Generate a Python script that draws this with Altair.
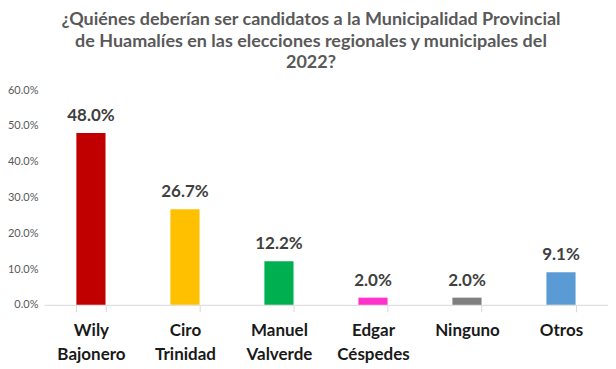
import altair as alt
import pandas as pd

categories = ["Wily Bajonero", "Ciro Trinidad", "Manuel Valverde", "Edgar Céspedes", "Ninguno", "Otros"]
values = [0.480, 0.267, 0.122, 0.020, 0.020, 0.091]
colors = ["#C00000", "#FFC000", "#00B050", "#FF33CC", "#7F7F7F", "#5B9BD5"]
y_ticks = [0.0, 0.1, 0.2, 0.3, 0.4, 0.5, 0.6]
title_lines = [
    "¿Quiénes deberían ser candidatos a la Municipalidad Provincial",
    "de Huamalíes en las elecciones regionales y municipales del",
    "2022?",
]

df = pd.DataFrame({"cat": categories, "val": values})
FONT = "Lato"

base = alt.Chart(df).encode(
    x=alt.X("cat:N", sort=categories, scale=alt.Scale(paddingInner=0.69, paddingOuter=0.345),
            axis=alt.Axis(title=None, labelAngle=0, labelExpr="split(datum.label, ' ')",
                          labelFont=FONT, labelFontSize=17, labelFontWeight="bold",
                          labelColor="#1A1A1A", labelPadding=11, labelLineHeight=24,
                          domainColor="#D9D9D9", tickColor="#D9D9D9", tickSize=7,
                          tickBand="extent")),
    y=alt.Y("val:Q", scale=alt.Scale(domain=[0, 0.6]),
            axis=alt.Axis(title=None, values=y_ticks, format=".1%", grid=False,
                          domain=False, ticks=False, labelFont=FONT, labelFontSize=11,
                          labelColor="#595959", labelPadding=6, labelOverlap=False)),
)

bars = base.mark_bar().encode(
    color=alt.Color("cat:N", scale=alt.Scale(domain=categories, range=colors), legend=None),
)

labels = base.mark_text(baseline="bottom", dy=-8, font=FONT, fontSize=17,
                        fontWeight="bold", color="#404040").encode(
    text=alt.Text("val:Q", format=".1%"),
)

chart = (bars + labels).properties(
    width=565, height=215,
    autosize=alt.AutoSizeParams(type="none"),
    padding={"left": 36, "top": 82, "right": 0, "bottom": 60},
    title=alt.TitleParams(title_lines, font=FONT, fontSize=18, fontWeight="bold",
                          color="#595959", anchor="middle", dx=-15, offset=12,
                          lineHeight=21.5),
).configure(background="white").configure_view(strokeWidth=0)

chart.save("out.html", embed_options={"renderer": "svg", "actions": False})
